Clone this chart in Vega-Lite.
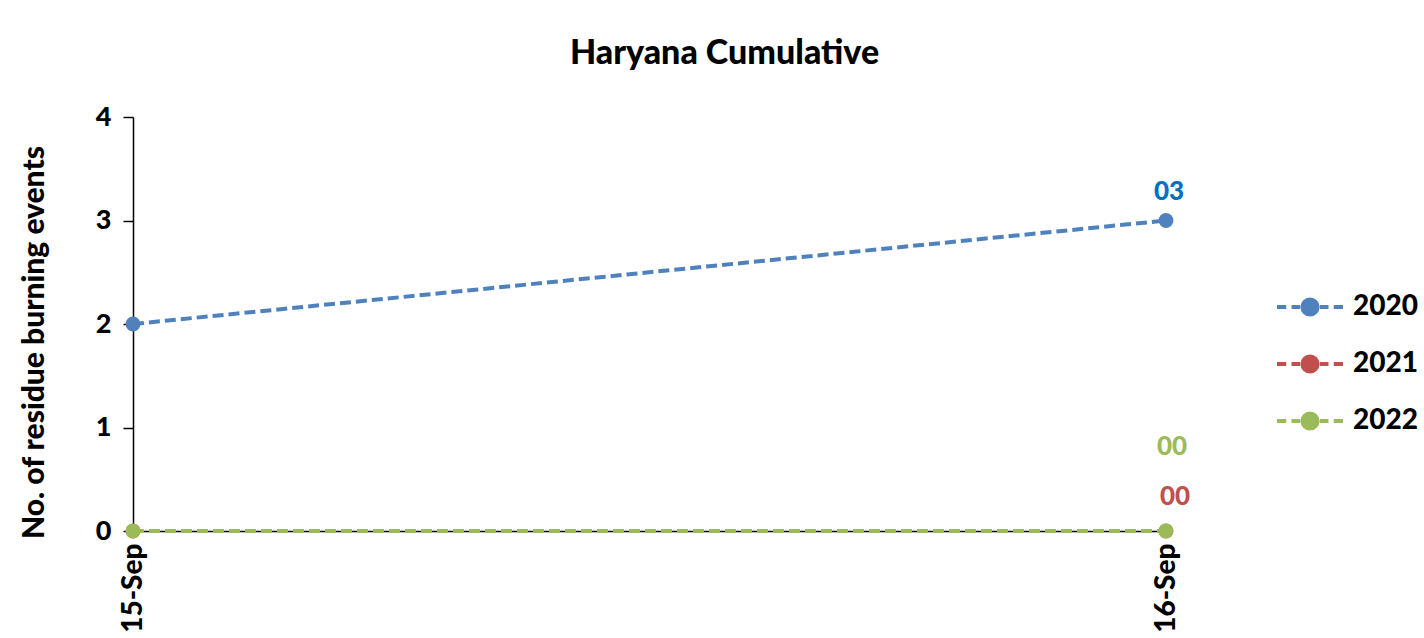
{
  "$schema": "https://vega.github.io/schema/vega-lite/v6.json",
  "width": 1033,
  "height": 414,
  "autosize": {"type": "none"},
  "padding": {"left": 133, "top": 117, "right": 258, "bottom": 107},
  "background": "white",
  "config": {
    "view": {"stroke": null},
    "font": "Lato"
  },
  "title": {
    "text": "Haryana Cumulative",
    "font": "Lato",
    "fontSize": 34,
    "fontWeight": 900,
    "color": "black",
    "anchor": "middle",
    "dx": 75,
    "offset": 32
  },
  "data": {
    "values": [
      {"date": "15-Sep", "year": "2020", "value": 2},
      {"date": "16-Sep", "year": "2020", "value": 3},
      {"date": "15-Sep", "year": "2021", "value": 0},
      {"date": "16-Sep", "year": "2021", "value": 0},
      {"date": "15-Sep", "year": "2022", "value": 0},
      {"date": "16-Sep", "year": "2022", "value": 0}
    ]
  },
  "encoding": {
    "x": {
      "field": "date",
      "type": "ordinal",
      "sort": ["15-Sep", "16-Sep"],
      "scale": {"type": "point", "padding": 0},
      "axis": {
        "title": null,
        "labelAngle": -90,
        "labelFont": "Lato",
        "labelFontSize": 28,
        "labelFontWeight": 900,
        "labelColor": "black",
        "labelPadding": 6,
        "domainColor": "black",
        "domainWidth": 1.5,
        "tickColor": "black",
        "tickSize": 6,
        "grid": false
      }
    },
    "y": {
      "field": "value",
      "type": "quantitative",
      "scale": {"domain": [0, 4], "nice": false},
      "axis": {
        "title": "No. of residue burning events",
        "titleFont": "Lato",
        "titleFontSize": 30,
        "titleFontWeight": 900,
        "titleColor": "black",
        "titlePadding": 46,
        "titleY": 225,
        "values": [0, 1, 2, 3, 4],
        "labelFont": "Lato",
        "labelFontSize": 27,
        "labelFontWeight": 900,
        "labelColor": "black",
        "labelPadding": 12,
        "domainColor": "black",
        "domainWidth": 1.5,
        "tickColor": "black",
        "tickSize": 10,
        "tickWidth": 1.5,
        "grid": false
      }
    },
    "color": {
      "field": "year",
      "type": "nominal",
      "scale": {"domain": ["2020", "2021", "2022"], "range": ["#4F81BD", "#C0504D", "#9BBB59"]},
      "legend": {
        "title": null,
        "orient": "none",
        "legendX": 1142,
        "legendY": 155,
        "symbolType": "M-1,0L-0.72,0M-0.56,0L-0.3,0M0.3,0L0.56,0M0.72,0L1,0M-0.23,0A0.23,0.23 0 1,1 0.23,0A0.23,0.23 0 1,1 -0.23,0",
        "symbolSize": 4356,
        "symbolStrokeWidth": 4,
        "symbolDash": [],
        "labelFont": "Lato",
        "labelFontSize": 28,
        "labelFontWeight": 900,
        "labelColor": "black",
        "labelOffset": 8,
        "rowPadding": 6,
        "encode": {
          "symbols": {
            "update": {
              "fill": {"scale": "color", "field": "value"},
              "stroke": {"scale": "color", "field": "value"},
              "opacity": {"value": 1},
              "strokeDash": {"value": []}
            }
          }
        }
      }
    }
  },
  "layer": [
    {
      "mark": {"type": "line", "strokeWidth": 4, "strokeDash": [11, 5]}
    },
    {
      "mark": {"type": "point", "filled": true, "size": 220, "opacity": 1}
    },
    {
      "transform": [{"filter": "datum.date == '16-Sep' && datum.year == '2020'"}],
      "mark": {"type": "text", "dy": -29, "dx": 3, "fontSize": 26, "fontWeight": 900, "font": "Lato"},
      "encoding": {"text": {"field": "value", "type": "quantitative", "format": "02d"}, "color": {"value": "#0070C0"}}
    },
    {
      "transform": [{"filter": "datum.date == '16-Sep' && datum.year == '2021'"}],
      "mark": {"type": "text", "dy": -34, "dx": 9, "fontSize": 26, "fontWeight": 900, "font": "Lato"},
      "encoding": {"text": {"field": "value", "type": "quantitative", "format": "02d"}, "color": {"value": "#C0504D"}}
    },
    {
      "transform": [{"filter": "datum.date == '16-Sep' && datum.year == '2022'"}],
      "mark": {"type": "text", "dy": -84, "dx": 6, "fontSize": 26, "fontWeight": 900, "font": "Lato"},
      "encoding": {"text": {"field": "value", "type": "quantitative", "format": "02d"}, "color": {"value": "#9BBB59"}}
    }
  ]
}
